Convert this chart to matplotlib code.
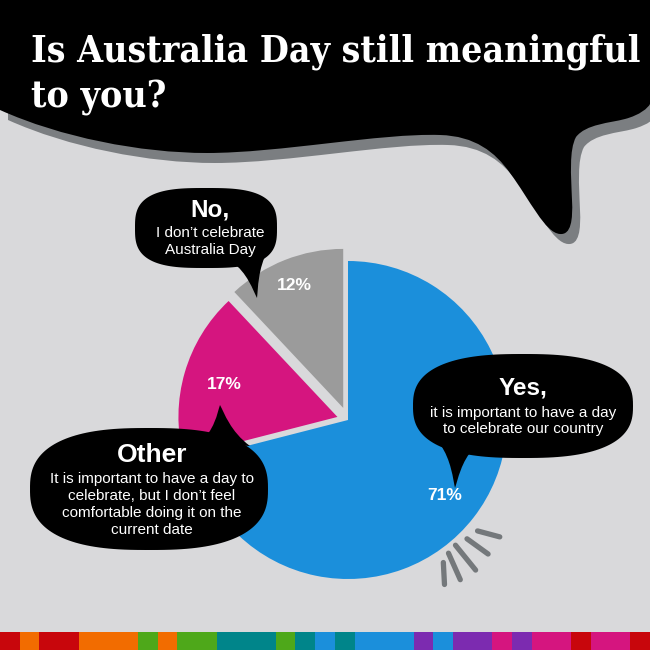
"""
Australia Day poll - pie with speech bubbles
"""

import numpy as np
import matplotlib
matplotlib.use('Agg')
import matplotlib.pyplot as plt
from matplotlib.path import Path
from matplotlib.patches import PathPatch, Polygon

# ====================
# DATA
# ====================
answers = ['Yes', 'Other', 'No']
shares = [71, 17, 12]
slice_colors = ['#1b8fdb', '#d5157f', '#9b9b9b']

headline = ['Is Australia Day still meaningful', 'to you?']

no_head = 'No,'
no_lines = ['I don\u2019t celebrate', 'Australia Day']
yes_head = 'Yes,'
yes_lines = ['it is important to have a day', 'to celebrate our country']
other_head = 'Other'
other_lines = ['It is important to have a day to',
               'celebrate, but I don\u2019t feel',
               'comfortable doing it on the',
               'current date']

strip_colors = ['#c8060c', '#f26c00', '#c8060c', '#f26c00', '#4ea81a', '#f26c00',
                '#4ea81a', '#00858a', '#4ea81a', '#00858a', '#1b8fdb', '#00858a',
                '#1b8fdb', '#7c2bb0', '#1b8fdb', '#7c2bb0', '#d5157f', '#7c2bb0',
                '#d5157f', '#c8060c', '#d5157f', '#c8060c']
strip_units = [1, 1, 2, 3, 1, 1, 2, 3, 1, 1, 1, 1, 3, 1, 1, 2, 1, 1, 2, 1, 2, 1]

# ====================
# LAYOUT (pixel coords, y down)
# ====================
W = H = 650
BG = '#d9d9db'
SHADOW = '#7b7e81'
PIE_X, PIE_Y, PIE_R = 348, 420, 159
EXPLODE = [0, 11, 13]
PCT_DIST = [0.77, 0.74, 0.83]
SANS = ['Liberation Sans', 'DejaVu Sans']

fig = plt.figure(figsize=(6.5, 6.5), dpi=100, facecolor=BG)
ax = fig.add_axes([0, 0, 1, 1])
ax.set_axis_off()


def blob(cx, cy, a, b, n=2.6, k=160):
    t = np.linspace(0, 2 * np.pi, k)
    c, s = np.cos(t), np.sin(t)
    x = cx + a * np.sign(c) * np.abs(c) ** (2 / n)
    y = cy + b * np.sign(s) * np.abs(s) ** (2 / n)
    return np.column_stack([x, y])


def tail(bl, br, tip):
    bl, br, tip = (np.asarray(p, float) for p in (bl, br, tip))
    mid = (bl + br) / 2

    def pull(p0, f, amt):
        p = p0 + f * (tip - p0)
        q = mid + f * (tip - mid)
        return p + amt * (q - p)

    verts = [bl, pull(bl, 0.35, 0.55), pull(bl, 0.8, 0.3), tip,
             pull(br, 0.8, 0.3), pull(br, 0.35, 0.55), br, bl]
    codes = [Path.MOVETO] + [Path.CURVE4] * 6 + [Path.CLOSEPOLY]
    return Path(verts, codes)


def bubble(cx, cy, a, b, n, bl, br, tip, z=5):
    ax.add_patch(Polygon(blob(cx, cy, a, b, n), closed=True, fc='black', ec='none', zorder=z))
    ax.add_patch(PathPatch(tail(bl, br, tip), fc='black', ec='none', zorder=z))


def write(x, y0, head, lines, head_size, body_size=11, gap=17, head_gap=20):
    ax.text(x, y0, head, fontsize=head_size, fontweight='bold', color='white',
            ha='center', va='baseline', family=SANS, zorder=7)
    for i, line in enumerate(lines):
        ax.text(x, y0 + head_gap + i * gap, line, fontsize=body_size, color='white',
                ha='center', va='baseline', family=SANS, zorder=7)


# ====================
# BIG TITLE BUBBLE
# ====================
M, L, C, Z = Path.MOVETO, Path.LINETO, Path.CURVE4, Path.CLOSEPOLY
big = [((0, 0), M), ((0, 110), L),
       ((60, 137), C), ((140, 153), C), ((207, 153), C),
       ((280, 153), C), ((380, 133), C), ((440, 135), C),
       ((475, 136), C), ((495, 152), C), ((510, 173), C),
       ((530, 200), C), ((545, 233), C), ((560, 234), C),
       ((571, 235), C), ((573, 220), C), ((572, 200), C),
       ((571, 175), C), ((569, 150), C), ((576, 137), C),
       ((586, 124), C), ((610, 123), C), ((625, 119), C),
       ((640, 115), C), ((648, 108), C), ((650, 104), C),
       ((650, 0), L), ((0, 0), Z)]
big_verts = np.array([v for v, _ in big], float)
big_codes = [c for _, c in big]
ax.add_patch(PathPatch(Path(big_verts + [8, 10], big_codes), fc=SHADOW, ec='none', zorder=1))
ax.add_patch(PathPatch(Path(big_verts, big_codes), fc='black', ec='none', zorder=2))

title_kw = dict(color='white', fontweight='bold', fontstretch='condensed',
                family=['DejaVu Serif Condensed', 'DejaVu Serif'],
                ha='left', va='baseline', zorder=3)
t1 = ax.text(31, 62, headline[0], fontsize=30, **title_kw)
t2 = ax.text(31, 107, headline[1], fontsize=30, **title_kw)
fig.canvas.draw()
width = t1.get_window_extent(fig.canvas.get_renderer()).width
size = 30 * 608 / width
t1.set_fontsize(size)
t2.set_fontsize(size)

# ====================
# PIE
# ====================
wedges, _ = ax.pie(shares, colors=slice_colors, startangle=-90, counterclock=True,
                   center=(PIE_X, PIE_Y), radius=PIE_R, explode=EXPLODE,
                   wedgeprops=dict(linewidth=0, zorder=4), frame=True)
for w, share, d in zip(wedges, shares, PCT_DIST):
    th = np.deg2rad((w.theta1 + w.theta2) / 2)
    px = w.center[0] + d * PIE_R * np.cos(th)
    py = w.center[1] + d * PIE_R * np.sin(th)
    ax.text(px, py, f'{share}%', fontsize=12.5, fontweight='bold', color='white',
            ha='center', va='center', family=SANS, zorder=6)

# emphasis dashes at the lower right of the pie
dash_pos = [-58, -54, -49.5, -44.3, -39]
dash_tilt = [-29, -12, -1.5, 8.5, 24]
dash_len = [22, 29, 32, 26, 23]
for a, tl, ln in zip(dash_pos, dash_tilt, dash_len):
    mx = PIE_X + 181 * np.cos(np.deg2rad(a))
    my = PIE_Y - 181 * np.sin(np.deg2rad(a))
    d = np.deg2rad(a + tl)
    dx, dy = np.cos(d) * ln / 2, -np.sin(d) * ln / 2
    ax.plot([mx - dx, mx + dx], [my - dy, my + dy], color='#74787b', lw=3.8,
            solid_capstyle='round', zorder=4)

# ====================
# SPEECH BUBBLES
# ====================
bubble(206, 228, 71, 40, 3.0, (232, 262), (268, 250), (257, 298))
write(210, 217, no_head, no_lines, 17.5, head_gap=20)

bubble(523, 406, 110, 52, 2.6, (440, 444), (474, 448), (455, 488))
write(523, 394, yes_head, yes_lines, 17.5, head_gap=23, gap=16)

bubble(149, 489, 119, 61, 2.6, (198, 444), (250, 446), (220, 405))
write(152, 462, other_head, other_lines, 19, head_gap=21, gap=17)

# ====================
# COLOUR STRIP
# ====================
unit = W / sum(strip_units)
edges = np.concatenate([[0], np.cumsum(strip_units)]) * unit
ax.broken_barh(list(zip(edges[:-1], np.array(strip_units) * unit)), (632, 18),
               facecolors=strip_colors, linewidth=0, zorder=8)

ax.set_xlim(0, W)
ax.set_ylim(H, 0)
ax.set_aspect('auto')

fig.savefig('out.png', dpi=100, facecolor=BG)
